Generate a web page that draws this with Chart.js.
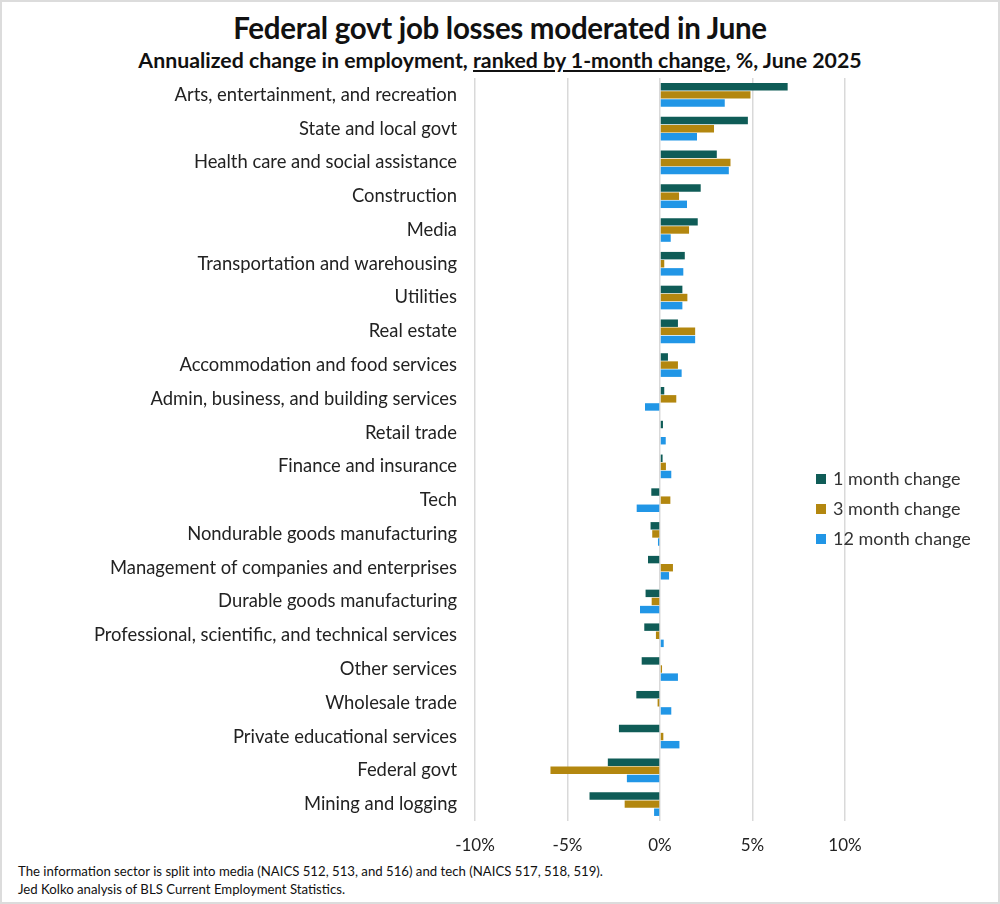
<!DOCTYPE html>
<html>
<head>
<meta charset="utf-8">
<script src="https://cdn.jsdelivr.net/npm/chart.js@4"></script>
<style>
  body { margin: 0; background: #fff; font-family: "Source Sans Pro", "Lato", "Noto Sans", sans-serif; }
  .frame { position: relative; width: 996px; height: 900px; border: 2px solid #dcdcdc; overflow: hidden; }
  .title { position: absolute; left: 0; right: 0; top: 8px; text-align: center; font-size: 29.5px; font-weight: 700; color: #111; letter-spacing: -0.3px; }
  .subtitle { position: absolute; left: 0; right: 0; top: 45px; text-align: center; font-size: 21.3px; font-weight: 700; color: #111; }
  .subtitle u { text-underline-offset: 2px; }
  .chartBox { position: absolute; left: -2px; top: 49px; width: 1000px; height: 810px; }
  .legend { position: absolute; left: 814px; top: 461px; font-size: 18px; color: #333; }
  .legend div { height: 30px; line-height: 30px; }
  .legend span { display: inline-block; width: 10px; height: 10px; margin-right: 7px; vertical-align: 1px; }
  .note { position: absolute; left: 16px; top: 860px; font-size: 13.2px; color: #111; line-height: 18px; }
</style>
</head>
<body>
<div class="frame">
  <div class="title">Federal govt job losses moderated in June</div>
  <div class="subtitle">Annualized change in employment, <u>ranked by 1-month change</u>, %, June 2025</div>
  <div class="chartBox"><canvas id="chart" width="1000" height="810"></canvas></div>
  <div class="legend" id="legend"></div>
  <div class="note">The information sector is split into media (NAICS 512, 513, and 516) and tech (NAICS 517, 518, 519).<br>Jed Kolko analysis of BLS Current Employment Statistics.</div>
</div>
<script>
const categories = [
  'Arts, entertainment, and recreation', 'State and local govt', 'Health care and social assistance',
  'Construction', 'Media', 'Transportation and warehousing', 'Utilities', 'Real estate',
  'Accommodation and food services', 'Admin, business, and building services', 'Retail trade',
  'Finance and insurance', 'Tech', 'Nondurable goods manufacturing',
  'Management of companies and enterprises', 'Durable goods manufacturing',
  'Professional, scientific, and technical services', 'Other services', 'Wholesale trade',
  'Private educational services', 'Federal govt', 'Mining and logging'
];
const oneMonth    = [6.9, 4.75, 3.07, 2.2, 2.04, 1.34, 1.21, 0.97, 0.43, 0.23, 0.16, 0.14, -0.47, -0.51, -0.65, -0.78, -0.85, -0.99, -1.28, -2.22, -2.82, -3.81];
const threeMonth  = [4.89, 2.92, 3.81, 1.03, 1.57, 0.23, 1.48, 1.9, 0.97, 0.88, 0.0, 0.32, 0.56, -0.42, 0.7, -0.45, -0.22, 0.11, -0.13, 0.18, -5.92, -1.91];
const twelveMonth = [3.5, 2.0, 3.72, 1.46, 0.58, 1.26, 1.21, 1.9, 1.17, -0.81, 0.31, 0.61, -1.26, -0.11, 0.49, -1.08, 0.2, 0.97, 0.61, 1.05, -1.79, -0.32];
const seriesNames = ['1 month change', '3 month change', '12 month change'];
const seriesColors = ['#0f5c57', '#b3870f', '#2196e6'];
const xTicks = [-10, -5, 0, 5, 10];

const font = '"Source Sans Pro", "Lato", "Noto Sans", sans-serif';

document.getElementById('legend').innerHTML = seriesNames.map((n, i) =>
  '<div><span style="background:' + seriesColors[i] + '"></span>' + n + '</div>').join('');

new Chart(document.getElementById('chart'), {
  type: 'bar',
  data: {
    labels: categories,
    datasets: [oneMonth, threeMonth, twelveMonth].map((d, i) => ({
      label: seriesNames[i],
      data: d,
      backgroundColor: seriesColors[i],
      categoryPercentage: 0.72,
      barPercentage: 0.92
    }))
  },
  options: {
    indexAxis: 'y',
    responsive: false,
    animation: false,
    devicePixelRatio: 1,
    layout: { padding: { top: 27, right: 155, bottom: 0, left: 0 } },
    plugins: { legend: { display: false }, tooltip: { enabled: false } },
    scales: {
      x: {
        min: -10, max: 10,
        afterBuildTicks: s => { s.ticks = xTicks.map(v => ({ value: v })); },
        afterFit: s => { s.height = 40; },
        grid: { color: '#d9d9d9', lineWidth: 1.5, drawTicks: false },
        border: { display: false },
        ticks: { padding: 14, color: '#222', font: { family: font, size: 17 }, callback: v => v + '%' }
      },
      y: {
        afterFit: s => { s.width = 475; },
        grid: { display: false },
        border: { display: false },
        ticks: { padding: 10, color: '#222', font: { family: font, size: 18.4 }, autoSkip: false }
      }
    }
  }
});
</script>
</body>
</html>
